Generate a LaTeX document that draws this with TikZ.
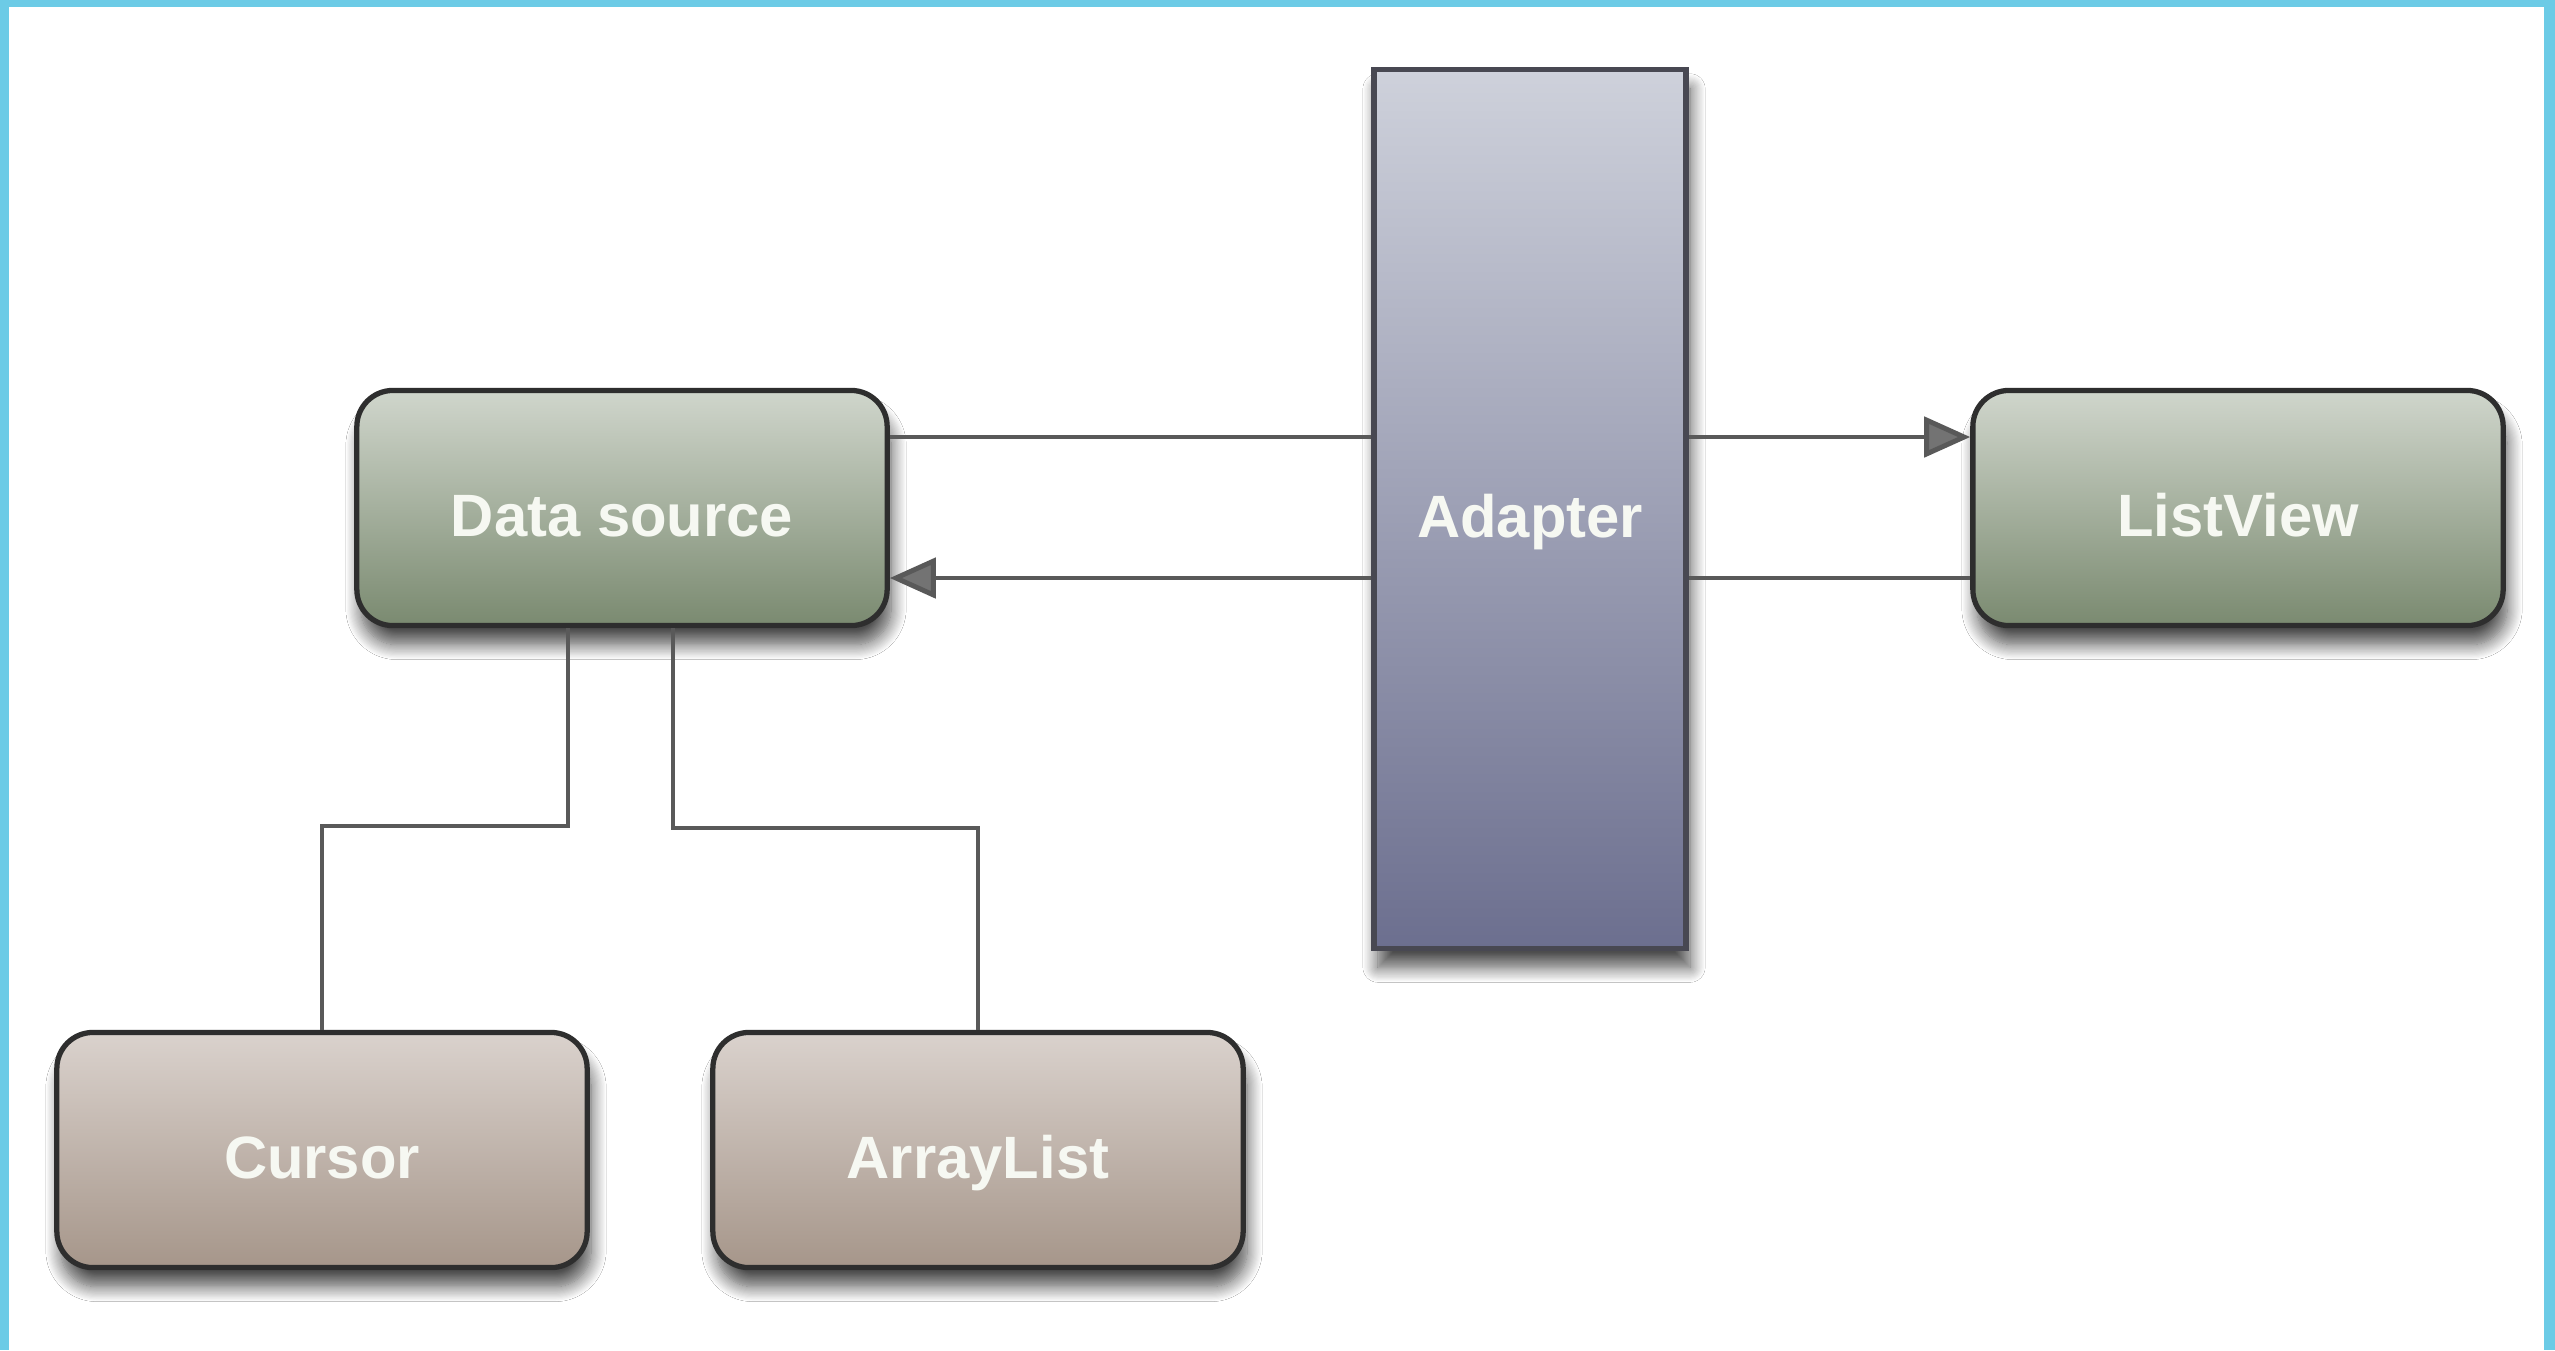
\documentclass[tikz,border=0pt]{standalone}
\usepackage{fontspec}
\setmainfont{Liberation Sans}
\usetikzlibrary{arrows.meta,shadows.blur}
\definecolor{frameblue}{HTML}{6CCBE6}
\definecolor{linegray}{HTML}{595959}
\definecolor{edgedark}{HTML}{2E2E2E}
\definecolor{txtwhite}{HTML}{F6F8F2}
\tikzset{
  boxshadow/.style={blur shadow={shadow xshift=0.04cm, shadow yshift=-0.19cm, shadow opacity=70, shadow blur radius=0.15cm, shadow blur steps=14}},
  labeltext/.style={text=txtwhite, font=\fontsize{17}{20}\selectfont\bfseries, text height=16.2pt, text depth=0pt},
  box/.style={draw=edgedark, line width=1.5pt, rounded corners=0.36cm,
    minimum width=5.3cm, minimum height=2.35cm, inner sep=0pt, labeltext, boxshadow},
  greenbox/.style={box, top color={rgb,255:red,208;green,214;blue,204}, bottom color={rgb,255:red,122;green,138;blue,112}},
  brownbox/.style={box, top color={rgb,255:red,218;green,210;blue,205}, bottom color={rgb,255:red,166;green,150;blue,138}},
  adapterbox/.style={draw={rgb,255:red,72;green,72;blue,82}, line width=1.5pt,
    minimum width=3.12cm, minimum height=8.78cm, inner sep=0pt,
    top color={rgb,255:red,206;green,209;blue,219}, bottom color={rgb,255:red,108;green,111;blue,143},
    labeltext, boxshadow},
  conn/.style={draw=linegray, line width=1.4pt},
  tri/.style={-{Triangle[length=0.46cm, width=0.4cm, fill={rgb,255:red,115;green,115;blue,115}]}}
}
\begin{document}
\begin{tikzpicture}[x=0.01cm, y=-0.01cm]
  \useasboundingbox (0,0) rectangle (2555,1350);
  \fill[frameblue] (0,0) rectangle (2555,1350);
  \fill[white] (9,7) rectangle (2544,1350);

  \node[greenbox] (ds) at (622,508) {Data source};
  \node[greenbox] (lv) at (2238,508) {ListView};
  \node[adapterbox] (ad) at (1530,509) {Adapter};
  \node[brownbox] (cur) at (322,1150) {Cursor};
  \node[brownbox] (al) at (978,1150) {ArrayList};

  \coordinate (up) at (0,437);
  \coordinate (lo) at (0,578);
  \coordinate (c1) at (568,826);
  \coordinate (c2) at (673,828);

  \draw[conn] (ds.east |- up) -- (ad.west |- up);
  \draw[conn, tri] (ad.west |- lo) -- (ds.east |- lo);
  \draw[conn, tri] (ad.east |- up) -- (lv.west |- up);
  \draw[conn] (lv.west |- lo) -- (ad.east |- lo);

  \draw[conn] (ds.south -| c1) -- (c1) -| (cur.north);
  \draw[conn] (ds.south -| c2) -- (c2) -| (al.north);
\end{tikzpicture}
\end{document}
